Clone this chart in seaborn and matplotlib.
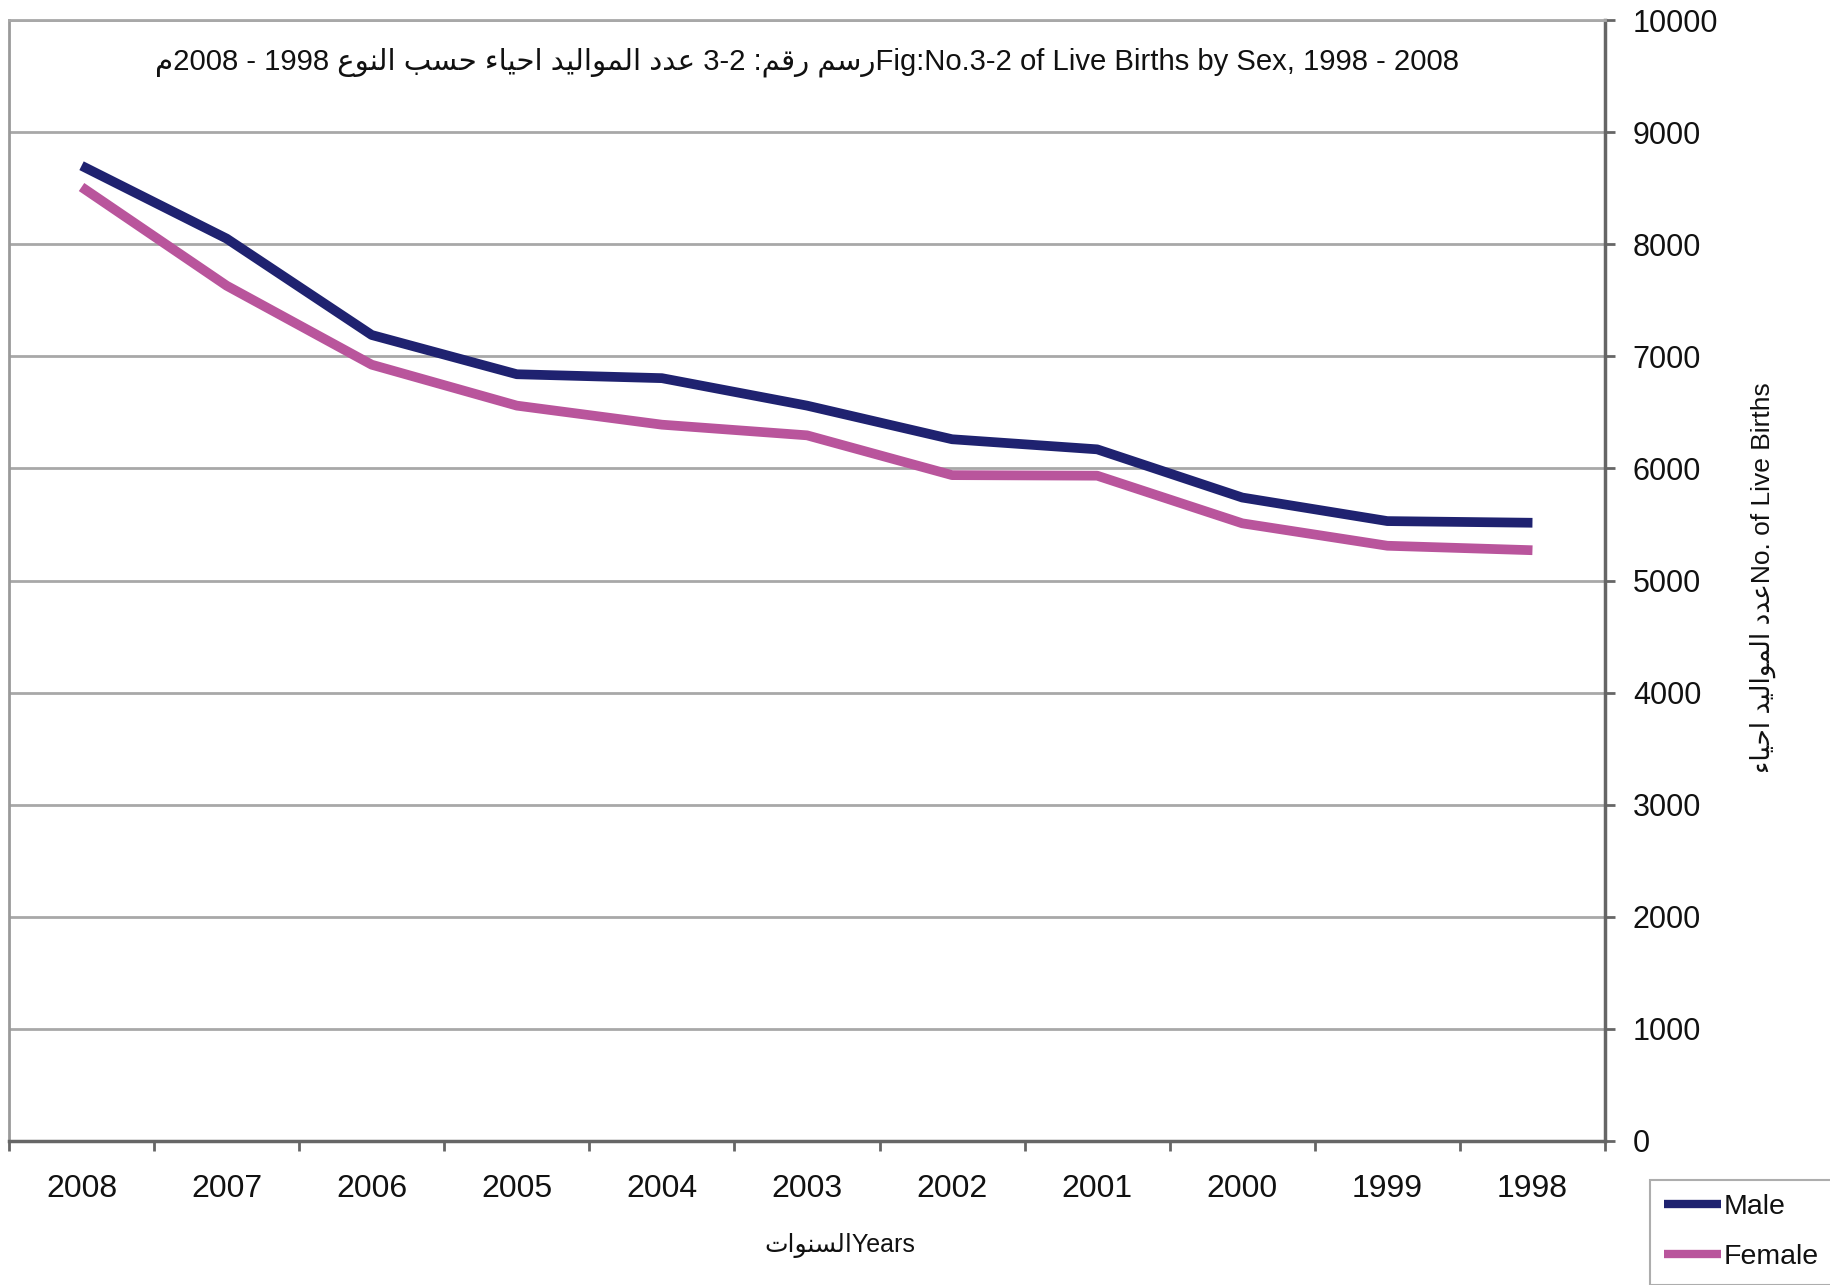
import numpy as np
import pandas as pd
import matplotlib
matplotlib.use("Agg")
import matplotlib.pyplot as plt
import seaborn as sns

# ---------------- data ----------------
years = ['2008', '2007', '2006', '2005', '2004', '2003', '2002', '2001', '2000', '1999', '1998']
male = [8700, 8050, 7190, 6840, 6805, 6560, 6260, 6170, 5740, 5530, 5515]
female = [8510, 7630, 6925, 6560, 6390, 6295, 5940, 5935, 5510, 5310, 5270]
series_names = ['Male', 'Female']
y_ticks = [0, 1000, 2000, 3000, 4000, 5000, 6000, 7000, 8000, 9000, 10000]

title_en = "Fig:No.3-2 of Live Births by Sex, 1998 - 2008"
title_ar_words = "عدد المواليد احياء حسب النوع"
title_ar_head = "رسم رقم"
ylabel_ar = "عدد المواليد احياء"
ylabel_en = "No. of Live Births"
xlabel_ar = "السنوات"
xlabel_en = "Years"

# ---------------- simple Arabic shaping (presentation forms) ----------------
FORMS = {  # iso, fin, ini, med
    'ا': ('\uFE8D', '\uFE8E', None, None),
    'ب': ('\uFE8F', '\uFE90', '\uFE91', '\uFE92'),
    'ت': ('\uFE95', '\uFE96', '\uFE97', '\uFE98'),
    'ح': ('\uFEA1', '\uFEA2', '\uFEA3', '\uFEA4'),
    'د': ('\uFEA9', '\uFEAA', None, None),
    'ر': ('\uFEAD', '\uFEAE', None, None),
    'س': ('\uFEB1', '\uFEB2', '\uFEB3', '\uFEB4'),
    'ع': ('\uFEC9', '\uFECA', '\uFECB', '\uFECC'),
    'ق': ('\uFED5', '\uFED6', '\uFED7', '\uFED8'),
    'ل': ('\uFEDD', '\uFEDE', '\uFEDF', '\uFEE0'),
    'م': ('\uFEE1', '\uFEE2', '\uFEE3', '\uFEE4'),
    'ن': ('\uFEE5', '\uFEE6', '\uFEE7', '\uFEE8'),
    'و': ('\uFEED', '\uFEEE', None, None),
    'ي': ('\uFEF1', '\uFEF2', '\uFEF3', '\uFEF4'),
    'ء': ('\uFE80', None, None, None),
}


def dual(c):
    return c in FORMS and FORMS[c][2] is not None


def joinable(c):
    return c in FORMS and FORMS[c][1] is not None


def shape_rev(s):
    out = []
    for i, c in enumerate(s):
        if c not in FORMS:
            out.append(c)
            continue
        prev = s[i - 1] if i > 0 else ''
        nxt = s[i + 1] if i + 1 < len(s) else ''
        jp = joinable(c) and dual(prev)
        jn = dual(c) and joinable(nxt)
        iso, fin, ini, med = FORMS[c]
        if jp and jn:
            out.append(med)
        elif jp:
            out.append(fin)
        elif jn:
            out.append(ini)
        else:
            out.append(iso)
    return ''.join(out[::-1])


title_visual = (shape_rev("م") + "2008 - 1998 " + shape_rev(title_ar_words)
                + " 3-2 :" + shape_rev(title_ar_head) + title_en)
ylabel_visual = shape_rev(ylabel_ar) + ylabel_en
xlabel_visual = shape_rev(xlabel_ar) + xlabel_en

# ---------------- styling ----------------
sns.set_style("white")
FAM = ['Liberation Sans', 'DejaVu Sans']
plt.rcParams['font.family'] = FAM

W, H = 1831, 1285
fig = plt.figure(figsize=(W / 100, H / 100), dpi=100)
ax = fig.add_axes([9 / W, 1 - 1141 / H, (1605 - 9) / W, (1141 - 20) / H])

df = pd.DataFrame({
    'Year': years * 2,
    'Births': male + female,
    'Sex': [series_names[0]] * len(years) + [series_names[1]] * len(years),
})
palette = {'Male': '#1f2270', 'Female': '#b9559c'}
sns.lineplot(data=df, x='Year', y='Births', hue='Sex', palette=palette,
             linewidth=7, sort=False, ax=ax, legend=True,
             solid_capstyle='butt', solid_joinstyle='round')

ax.set_xlim(-0.5, 10.5)
ax.set_ylim(0, 10000)
ax.set_xlabel('')
ax.set_ylabel('')

ax.yaxis.grid(True, color='#a8a8a8', linewidth=2)
ax.xaxis.grid(False)
ax.set_axisbelow(True)

for side, col, lw in [('right', '#666666', 2.5), ('bottom', '#666666', 2.5),
                      ('left', '#9a9a9a', 2), ('top', '#a8a8a8', 2)]:
    ax.spines[side].set_visible(True)
    ax.spines[side].set_color(col)
    ax.spines[side].set_linewidth(lw)

ax.yaxis.tick_right()
ax.set_yticks(y_ticks)
ax.set_yticklabels([str(v) for v in y_ticks])
ax.tick_params(axis='y', which='major', direction='out', length=7, width=2,
               color='#666666', labelsize=22, pad=13, right=True, left=False,
               labelright=True, labelleft=False, labelcolor='#111111')

ax.set_xticks(range(len(years)))
ax.set_xticklabels(years)
ax.set_xticks(np.arange(-0.5, len(years), 1.0), minor=True)
ax.tick_params(axis='x', which='major', length=0, pad=24, labelsize=23,
               labelcolor='#111111')
ax.tick_params(axis='x', which='minor', length=7, width=2, direction='out',
               color='#666666', bottom=True)

# texts
fig.text(807 / W, 1 - 62 / H, title_visual, ha='center', va='center',
         fontsize=21.1, color='#111111', family=FAM)
fig.text(840 / W, 1 - 1246 / H, xlabel_visual, ha='center', va='center',
         fontsize=18, color='#111111', family=FAM)
fig.text(1763 / W, 1 - 578 / H, ylabel_visual, ha='center', va='center',
         rotation=90, fontsize=19, color='#111111', family=FAM)

# legend
handles, labels = ax.get_legend_handles_labels()
ax.get_legend().remove()
leg = fig.legend(handles, labels, loc='upper left',
                 bbox_to_anchor=(1650 / W, 1 - 1180 / H),
                 fontsize=20.5, frameon=True, fancybox=False, shadow=False,
                 handlelength=2.0, handletextpad=0.1, labelspacing=0.85,
                 borderpad=0.5, borderaxespad=0)
leg.get_frame().set_edgecolor('#999999')
leg.get_frame().set_linewidth(1.5)
for line in leg.get_lines():
    line.set_linewidth(6)
for t in leg.get_texts():
    t.set_color('#111111')

fig.savefig('out.png', dpi=100)
